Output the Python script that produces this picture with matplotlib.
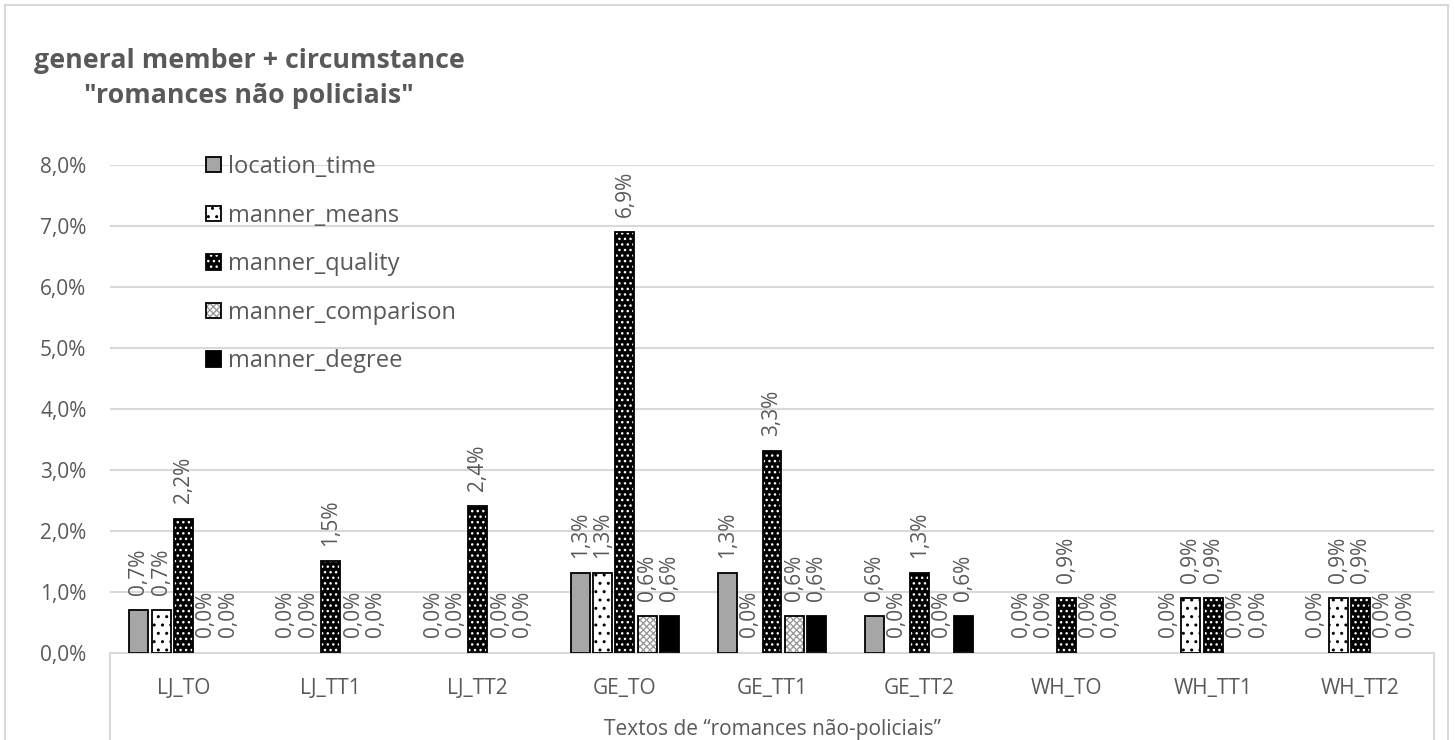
import matplotlib
matplotlib.use("Agg")
import matplotlib.pyplot as plt
from matplotlib.patches import Patch
from matplotlib.lines import Line2D
import numpy as np

plt.rcParams['font.family'] = ['Open Sans', 'DejaVu Sans']
plt.rcParams['hatch.linewidth'] = 1.0

categories = ["LJ_TO", "LJ_TT1", "LJ_TT2", "GE_TO", "GE_TT1", "GE_TT2", "WH_TO", "WH_TT1", "WH_TT2"]
series_names = ["location_time", "manner_means", "manner_quality", "manner_comparison", "manner_degree"]

location_time     = [0.7, 0.0, 0.0, 1.3, 1.3, 0.6, 0.0, 0.0, 0.0]
manner_means      = [0.7, 0.0, 0.0, 1.3, 0.0, 0.0, 0.0, 0.9, 0.9]
manner_quality    = [2.2, 1.5, 2.4, 6.9, 3.3, 1.3, 0.9, 0.9, 0.9]
manner_comparison = [0.0, 0.0, 0.0, 0.6, 0.6, 0.0, 0.0, 0.0, 0.0]
manner_degree     = [0.0, 0.0, 0.0, 0.6, 0.6, 0.6, 0.0, 0.0, 0.0]

y_ticks = [0, 1, 2, 3, 4, 5, 6, 7, 8]

series_values = [location_time, manner_means, manner_quality, manner_comparison, manner_degree]

# fill colour, hatch pattern, hatch colour for each series
styles = [
    ("#a6a6a6", None, "#a6a6a6"),
    ("#ffffff", "..", "#000000"),
    ("#000000", "...", "#ffffff"),
    ("#ffffff", "xxxxx", "#9a9a9a"),
    ("#000000", None, "#000000"),
]

TEXT = "#595959"
GRID = "#d9d9d9"
FS = 15

W, H = 1455, 740
fig = plt.figure(figsize=(W / 100, H / 100), dpi=100)
ax = fig.add_axes([110 / W, 1 - 652.7 / H, (1434 - 110) / W, (652.7 - 164.7) / H])

x = np.arange(len(categories))
step = 0.152
width = 0.129

handles = []
for i, (name, vals) in enumerate(zip(series_names, series_values)):
    fc, hatch, hc = styles[i]
    pos = x + (i - 2) * step
    vals = np.array(vals)
    lws = [1.3 if v > 0 else 0 for v in vals]
    ax.bar(pos, vals, width, color=fc, edgecolor=hc, hatch=hatch, linewidth=0, zorder=2)
    ax.bar(pos, vals, width, facecolor="none", edgecolor="#000000", linewidth=lws, zorder=3)
    for xp, v in zip(pos, vals):
        ax.annotate(f"{v:.1f}%".replace(".", ","), (xp, v), xytext=(0, 11),
                    textcoords="offset points", rotation=90, ha="center", va="bottom",
                    fontsize=15, color=TEXT, zorder=4)
    h_fill = Patch(facecolor=fc, edgecolor=hc, hatch=hatch, linewidth=0)
    h_edge = Patch(facecolor="none", edgecolor="#000000", linewidth=1.3)
    handles.append((h_fill, h_edge))

ax.set_xlim(-0.5, len(categories) - 0.5)
ax.set_ylim(0, 8)
ax.set_yticks(y_ticks)
ax.set_yticklabels([f"{t:.1f}%".replace(".", ",") for t in y_ticks], fontsize=FS, color=TEXT)
ax.set_xticks(x)
ax.set_xticklabels(categories, fontsize=FS, color=TEXT)
ax.tick_params(axis="y", length=0, pad=17)
ax.tick_params(axis="x", length=0, pad=18)
ax.yaxis.grid(True, color=GRID, linewidth=1.5, zorder=0)
ax.set_axisbelow(True)
for side in ["top", "right", "left"]:
    ax.spines[side].set_visible(False)
ax.spines["bottom"].set_color(GRID)
ax.spines["bottom"].set_linewidth(1.5)

# category box sides
for xa in (0, 1):
    ax.add_line(Line2D([xa, xa], [0, -0.3], transform=ax.transAxes, color=GRID,
                       linewidth=1.5, clip_on=False))

leg = ax.legend(handles, series_names, loc="upper left",
                bbox_to_anchor=(206 / W, 1 - 155 / H), bbox_transform=fig.transFigure,
                frameon=False, fontsize=17, labelcolor=TEXT, borderpad=0, borderaxespad=0,
                handlelength=0.63, handleheight=0.63, handletextpad=0.3, labelspacing=1.04)

fig.text(772 / W, 1 - 729 / H, "Textos de \u201cromances n\u00e3o-policiais\u201d", ha="center",
         va="center", fontsize=FS, color=TEXT)

fig.text(249 / W, 1 - 78.5 / H, "general member + circumstance\n\"romances n\u00e3o policiais\"",
         ha="center", va="center", multialignment="center", fontsize=19.3, fontweight="bold",
         color=TEXT, linespacing=1.45)

# chart border
bl, br, bt = 5 / W, 1448 / W, 1 - 5 / H
for xs, ys in [([bl, br], [bt, bt]), ([bl, bl], [bt, 0]), ([br, br], [bt, 0])]:
    fig.add_artist(Line2D(xs, ys, transform=fig.transFigure, color=GRID, linewidth=1.5))

fig.savefig("out.png", dpi=100, facecolor="white")
